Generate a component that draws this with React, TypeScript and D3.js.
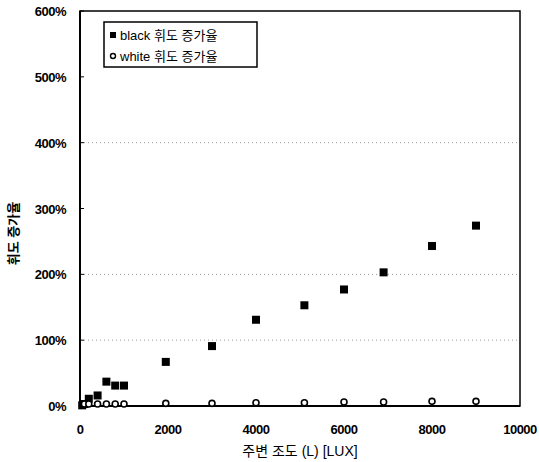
import { useEffect, useRef } from 'react';
import * as d3 from 'd3';

// lux values and luminance increase (%)
const blackLux = [50, 100, 200, 400, 600, 800, 1000, 1950, 3000, 4000, 5100, 6000, 6900, 8000, 9000];
const blackInc = [1, 3, 11, 16, 37, 31, 31, 67, 91, 131, 153, 177, 203, 243, 274];
const whiteLux = [100, 200, 400, 600, 800, 1000, 1950, 3000, 4000, 5100, 6000, 6900, 8000, 9000];
const whiteInc = [0, 0, 0, 0, 0, 0, 1, 1, 2, 2, 3, 3, 4, 4];
const xTicks = [0, 2000, 4000, 6000, 8000, 10000];
const yTicks = [0, 100, 200, 300, 400, 500, 600];
const gridTicks = [100, 200, 400];
const legendLabels = ['black 휘도 증가율', 'white 휘도 증가율'];

export default function App() {
  const svgRef = useRef<SVGSVGElement>(null);

  useEffect(() => {
    if (!svgRef.current) return;
    const W = 539, H = 462, PAD = { t: 11, r: 19, b: 56, l: 80 };
    const svg = d3.select(svgRef.current);
    svg.selectAll('*').remove();

    const x = d3.scaleLinear().domain([0, 10000]).range([PAD.l, W - PAD.r]);
    const y = d3.scaleLinear().domain([0, 600]).range([H - PAD.b, PAD.t]);
    const font = 'Arial, "Liberation Sans", "Noto Sans CJK KR", sans-serif';

    // Grid (only some lines survive in the original)
    gridTicks.forEach(t => {
      svg.append('line')
        .attr('x1', x(0)).attr('x2', x(10000)).attr('y1', y(t)).attr('y2', y(t))
        .attr('stroke', '#999').attr('stroke-width', 1).attr('stroke-dasharray', '1,3');
    });

    // Frame
    svg.append('rect')
      .attr('x', x(0)).attr('y', y(600)).attr('width', x(10000) - x(0)).attr('height', y(0) - y(600))
      .attr('fill', 'none').attr('stroke', '#000').attr('stroke-width', 1.5);
    svg.append('line').attr('x1', x(0)).attr('x2', x(0)).attr('y1', y(600)).attr('y2', y(0))
      .attr('stroke', '#000').attr('stroke-width', 2);
    svg.append('line').attr('x1', x(0)).attr('x2', x(10000)).attr('y1', y(0)).attr('y2', y(0))
      .attr('stroke', '#000').attr('stroke-width', 2);

    // Y ticks + labels
    yTicks.forEach(t => {
      svg.append('line').attr('x1', x(0)).attr('x2', x(0) + 4).attr('y1', y(t)).attr('y2', y(t))
        .attr('stroke', '#000');
      svg.append('text')
        .attr('x', 66).attr('y', y(t) + 5)
        .attr('text-anchor', 'end').attr('font-size', 13).attr('font-weight', 'bold')
        .attr('font-family', font).attr('fill', '#000').attr('letter-spacing', -0.5).text(`${t}%`);
    });

    // X labels
    xTicks.forEach(t => {
      svg.append('text')
        .attr('x', x(t)).attr('y', 434)
        .attr('text-anchor', 'middle').attr('font-size', 13).attr('font-weight', 'bold')
        .attr('font-family', font).attr('fill', '#000').attr('letter-spacing', -0.5).text(t);
    });

    // Axis titles
    svg.append('text')
      .attr('x', 300).attr('y', 456).attr('text-anchor', 'middle')
      .attr('font-size', 14).attr('font-family', font).attr('fill', '#000')
      .text('주변 조도 (L) [LUX]');
    svg.append('text')
      .attr('transform', `translate(18, ${(y(0) + y(600)) / 2 + 25}) rotate(-90)`)
      .attr('text-anchor', 'middle').attr('font-size', 13).attr('font-weight', 'bold')
      .attr('font-family', font).attr('fill', '#000')
      .text('휘도 증가율');

    // Black squares
    svg.append('g').selectAll('rect')
      .data(blackLux.map((v, i) => [v, blackInc[i]]))
      .join('rect')
      .attr('x', d => x(d[0]) - 4).attr('y', d => y(d[1]) - 4)
      .attr('width', 8).attr('height', 8).attr('fill', '#000');

    // White circles
    svg.append('g').selectAll('circle')
      .data(whiteLux.map((v, i) => [v, whiteInc[i]]))
      .join('circle')
      .attr('cx', d => x(d[0])).attr('cy', d => y(d[1]) - 2).attr('r', 3)
      .attr('fill', '#fff').attr('stroke', '#000').attr('stroke-width', 1.6);

    // Legend
    const lg = svg.append('g').attr('transform', 'translate(104, 22)');
    lg.append('rect').attr('width', 153).attr('height', 45)
      .attr('fill', '#fff').attr('stroke', '#000').attr('stroke-width', 1.5);
    lg.append('rect').attr('x', 6).attr('y', 10).attr('width', 6).attr('height', 6).attr('fill', '#000');
    lg.append('circle').attr('cx', 9).attr('cy', 34).attr('r', 2.5)
      .attr('fill', '#fff').attr('stroke', '#000').attr('stroke-width', 1.4);
    legendLabels.forEach((l, i) => {
      lg.append('text').attr('x', 16).attr('y', 18 + i * 21)
        .attr('font-size', 13).attr('font-family', font).attr('fill', '#000').text(l);
    });
  }, []);

  return (
    <svg ref={svgRef} width={539} height={462}
      style={{ position: 'absolute', left: 0, top: 0, background: '#fff' }} />
  );
}
